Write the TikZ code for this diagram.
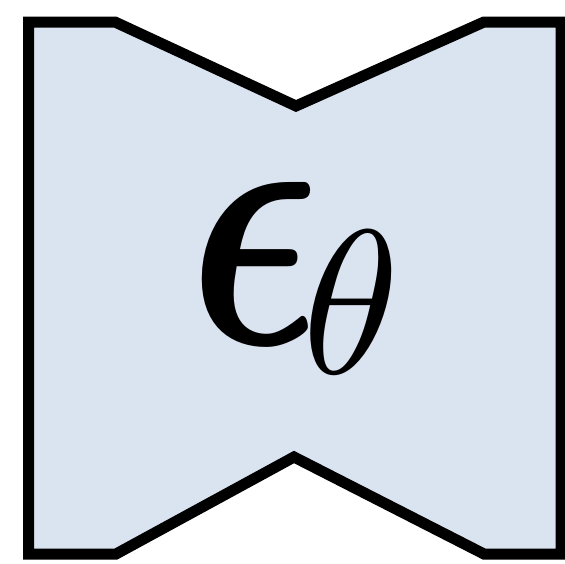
\documentclass[tikz,border=0pt]{standalone}
\usepackage{amsmath}
\definecolor{unetfill}{RGB}{218,227,240}
\tikzset{unet/.style={fill=unetfill,draw=black,line width=11pt,line join=miter},
  glyph/.style={inner sep=0pt,anchor=center}}
\begin{document}
\begin{tikzpicture}[x=1pt,y=-1pt]
\useasboundingbox (0,0) rectangle (565,563);
% hourglass body
\draw[unet] (28.5,22)--(115,22)--(296,106)--(484,22)--(561,22)--(561,554)
  --(484,554)--(294,457)--(116,554)--(28.5,554)--cycle;
% label
\node[glyph] (eps) at (255,263) {\scalebox{27.5}[36.5]{$\boldsymbol{\epsilon}$}};
\node[glyph] (sub) at (351,302) {\scalebox{19.6}[20.5]{$\theta$}};
\end{tikzpicture}
\end{document}
